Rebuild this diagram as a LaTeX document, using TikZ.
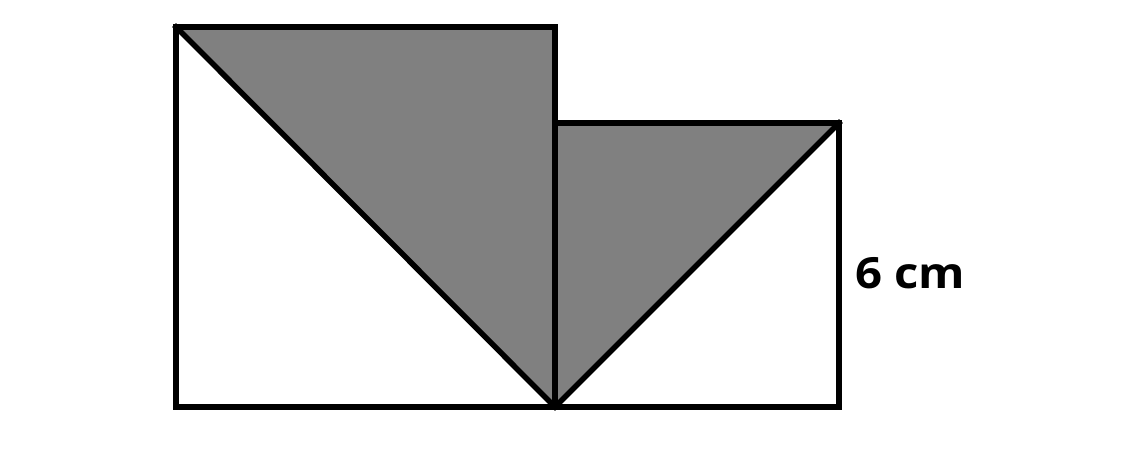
\documentclass[tikz,border=0pt]{standalone}
\usepackage{fontspec}
\setmainfont{Open Sans}[FakeStretch=1.1]
\begin{document}
\begin{tikzpicture}[x=1pt,y=-1pt,
  edge/.style={line width=5.5pt,line join=miter,line cap=rect,black},
  shade/.style={fill=black!50},
  lbl/.style={font=\fontsize{43}{48}\selectfont\bfseries,inner sep=0pt}]
\useasboundingbox (0,0) rectangle (1148,476);
\coordinate (A) at (176,27);
\coordinate (B) at (555,27);
\coordinate (C) at (555,407);
\coordinate (D) at (176,407);
\coordinate (E) at (555,123);
\coordinate (F) at (839,123);
\coordinate (G) at (839,407);
\fill[shade] (A) -- (B) -- (C) -- cycle;
\fill[shade] (E) -- (F) -- (C) -- cycle;
\draw[edge] (A) -- (B) -- (C) -- (D) -- cycle;
\draw[edge] (E) -- (F) -- (G) -- (C);
\draw[edge] (A) -- (C) -- (F);
\node[lbl,anchor=base west] (L) at (855,288) {6 cm};
\end{tikzpicture}
\end{document}
